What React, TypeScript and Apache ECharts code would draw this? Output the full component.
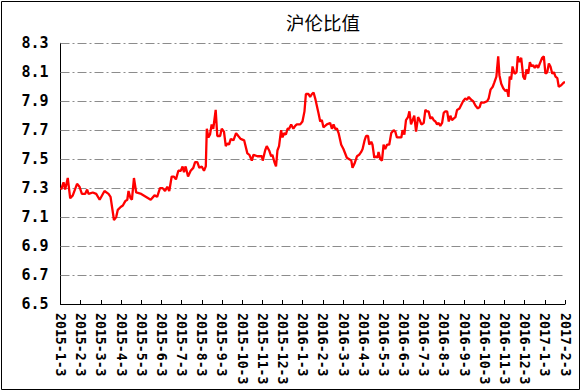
import React, { useEffect, useRef } from "react";
import * as echarts from "echarts";

const titleText = "沪伦比值";

const monthLabels = [
  "2015-1-3", "2015-2-3", "2015-3-3", "2015-4-3", "2015-5-3", "2015-6-3",
  "2015-7-3", "2015-8-3", "2015-9-3", "2015-10-3", "2015-11-3", "2015-12-3",
  "2016-1-3", "2016-2-3", "2016-3-3", "2016-4-3", "2016-5-3", "2016-6-3",
  "2016-7-3", "2016-8-3", "2016-9-3", "2016-10-3", "2016-11-3", "2016-12-3",
  "2017-1-3", "2017-2-3",
];

const yTickValues = [6.5, 6.7, 6.9, 7.1, 7.3, 7.5, 7.7, 7.9, 8.1, 8.3];
const gridLineValues = [6.7, 6.9, 7.1, 7.3, 7.5, 7.7, 7.9, 8.1, 8.3];

// position in months after 2015-1-3
const monthPos = [
  0.03, 0.15, 0.23, 0.36, 0.48, 0.61, 0.82, 0.94, 1.06, 1.22, 1.32, 1.39, 1.6, 1.77, 1.94,
  2.18, 2.38, 2.48, 2.65, 2.76, 2.84, 2.98, 3.09, 3.21, 3.31, 3.37, 3.47, 3.54, 3.64, 3.75,
  4.0, 4.47, 4.66, 4.79, 4.93, 5.06, 5.18, 5.29, 5.39, 5.51, 5.62, 5.72, 5.84, 5.96,
  6.05, 6.12, 6.2, 6.32, 6.45, 6.58, 6.67, 6.78, 6.88, 7.0, 7.11, 7.2, 7.25, 7.33, 7.41,
  7.49, 7.57, 7.69, 7.77, 7.91, 7.99, 8.1, 8.19, 8.27, 8.35, 8.44, 8.57, 8.7, 8.81, 8.93,
  9.1, 9.26, 9.36, 9.48, 9.56, 9.76, 9.98, 10.02, 10.14, 10.22, 10.34, 10.44, 10.5, 10.6,
  10.68, 10.75, 10.83, 10.93, 11.0, 11.08, 11.17, 11.25, 11.33, 11.43, 11.54, 11.63, 11.71,
  11.88, 11.99, 12.09, 12.16, 12.29, 12.37, 12.46, 12.54, 12.62, 12.78, 12.87, 12.95,
  13.03, 13.2, 13.36, 13.45, 13.53, 13.61, 13.7, 13.78, 13.91, 14.02, 14.19, 14.31, 14.41,
  14.47, 14.57, 14.69, 14.8, 14.9, 14.97, 15.07, 15.14, 15.24, 15.3, 15.4, 15.46, 15.55,
  15.63, 15.71, 15.76, 15.85, 15.93, 16.01, 16.09, 16.18, 16.29, 16.39, 16.51, 16.59,
  16.67, 16.75, 16.89, 16.95, 17.04, 17.12, 17.22, 17.29, 17.37, 17.45, 17.53, 17.62,
  17.72, 17.8, 17.88, 18.0, 18.08, 18.16, 18.24, 18.33, 18.41, 18.49, 18.58, 18.66, 18.74,
  18.82, 18.91, 18.99, 19.07, 19.16, 19.24, 19.32, 19.4, 19.48, 19.57, 19.65, 19.77,
  19.95, 20.06, 20.15, 20.23, 20.35, 20.45, 20.56, 20.68, 20.77, 20.84, 20.97, 21.14,
  21.22, 21.31, 21.42, 21.5, 21.6, 21.69, 21.75, 21.84, 21.94, 22.05, 22.13, 22.2, 22.26,
  22.33, 22.4, 22.5, 22.6, 22.66, 22.74, 22.83, 22.93, 23.01, 23.09, 23.18, 23.26, 23.34,
  23.42, 23.5, 23.59, 23.67, 23.75, 23.87, 23.95, 24.03, 24.12, 24.2, 24.28, 24.37, 24.45,
  24.53, 24.62, 24.69, 24.81, 24.94, 25.0,
];

const ratioValues = [
  7.29, 7.34, 7.29, 7.37, 7.23, 7.25, 7.33, 7.31, 7.26, 7.26, 7.29, 7.26, 7.27, 7.26, 7.22,
  7.28, 7.26, 7.24, 7.08, 7.1, 7.15, 7.17, 7.18, 7.21, 7.22, 7.28, 7.23, 7.22, 7.37, 7.27,
  7.26, 7.22, 7.25, 7.24, 7.3, 7.3, 7.28, 7.31, 7.28, 7.38, 7.38, 7.36, 7.42, 7.42,
  7.45, 7.41, 7.45, 7.38, 7.42, 7.44, 7.48, 7.48, 7.44, 7.45, 7.42, 7.45, 7.71, 7.65, 7.67,
  7.74, 7.71, 7.84, 7.66, 7.66, 7.71, 7.69, 7.59, 7.61, 7.6, 7.64, 7.63, 7.68, 7.66, 7.64,
  7.63, 7.54, 7.53, 7.49, 7.53, 7.52, 7.52, 7.49, 7.56, 7.59, 7.56, 7.52, 7.53, 7.48,
  7.45, 7.56, 7.59, 7.7, 7.65, 7.68, 7.67, 7.71, 7.71, 7.74, 7.71, 7.73, 7.74,
  7.74, 7.76, 7.83, 7.95, 7.95, 7.93, 7.95, 7.96, 7.92, 7.82, 7.76, 7.77,
  7.72, 7.74, 7.75, 7.71, 7.74, 7.71, 7.71, 7.68, 7.6, 7.57, 7.51, 7.5, 7.49,
  7.44, 7.47, 7.52, 7.53, 7.55, 7.57, 7.63, 7.66, 7.66, 7.6, 7.62, 7.6, 7.51,
  7.52, 7.51, 7.55, 7.5, 7.49, 7.6, 7.57, 7.6, 7.6, 7.68, 7.7, 7.69,
  7.65, 7.65, 7.65, 7.7, 7.67, 7.77, 7.79, 7.83, 7.74, 7.77, 7.8, 7.69,
  7.79, 7.77, 7.74, 7.75, 7.84, 7.83, 7.83, 7.78, 7.79, 7.77, 7.76, 7.74, 7.75,
  7.73, 7.75, 7.82, 7.83, 7.83, 7.76, 7.8, 7.77, 7.78, 7.79, 7.84, 7.85,
  7.9, 7.92, 7.91, 7.93, 7.91, 7.9, 7.87, 7.85, 7.86, 7.89, 7.89, 7.9,
  7.92, 7.98, 8.0, 8.03, 8.07, 8.21, 8.08, 8.02, 7.99, 7.97, 7.98, 7.93, 8.07,
  8.05, 8.14, 8.09, 8.1, 8.21, 8.17, 8.2, 8.07, 8.05, 8.12, 8.09, 8.17, 8.14,
  8.15, 8.13, 8.15, 8.13, 8.16, 8.2, 8.21, 8.09, 8.1, 8.16, 8.14, 8.09, 8.1,
  8.07, 8.06, 8.0, 8.01, 8.03, 8.03,
];

export default function App() {
  const ref = useRef<HTMLDivElement>(null);

  useEffect(() => {
    if (!ref.current) return;
    const chart = echarts.init(ref.current, null, { renderer: "svg" });
    const lineData = monthPos.map((m, i) => [m, ratioValues[i]]);
    chart.setOption({
      animation: false,
      backgroundColor: "#ffffff",
      title: {
        text: titleText,
        left: 281,
        top: 8,
        textStyle: {
          fontFamily: "Noto Sans CJK SC",
          fontSize: 18.5,
          fontWeight: "normal",
          color: "#000000",
        },
      },
      graphic: [
        {
          type: "rect",
          shape: { x: 1.5, y: 1.5, width: 578, height: 388 },
          style: { fill: "none", stroke: "#000000", lineWidth: 1 },
          silent: true,
        },
      ],
      grid: { left: 60.5, right: 16, top: 43.3, bottom: 88, containLabel: false },
      xAxis: {
        type: "value",
        min: 0,
        max: monthLabels.length - 1,
        interval: 1,
        axisLine: { show: true, lineStyle: { color: "#000000", width: 1 } },
        axisTick: { show: true, inside: true, length: 4, lineStyle: { color: "#000000" } },
        splitLine: { show: false },
        axisLabel: {
          rotate: -90,
          margin: 9,
          fontFamily: "DejaVu Sans Mono",
          fontSize: 13.2,
          fontWeight: "bold",
          color: "#000000",
          formatter: (v: number) => monthLabels[Math.round(v)] ?? "",
        },
      },
      yAxis: {
        type: "value",
        min: yTickValues[0],
        max: yTickValues[yTickValues.length - 1],
        axisLine: { show: true, lineStyle: { color: "#000000", width: 1 } },
        axisTick: {
          show: true,
          inside: true,
          length: 3,
          customValues: yTickValues,
          lineStyle: { color: "#000000" },
        },
        splitLine: { show: false },
        axisLabel: {
          customValues: yTickValues,
          margin: 12,
          fontFamily: "DejaVu Sans Mono",
          fontSize: 15,
          fontWeight: "bold",
          color: "#000000",
          formatter: (v: number) => v.toFixed(1),
        },
      },
      series: [
        {
          type: "line",
          data: lineData,
          showSymbol: false,
          symbol: "none",
          z: 3,
          lineStyle: { color: "#ff0000", width: 2.3 },
          markLine: {
            silent: true,
            symbol: "none",
            z: 1,
            label: { show: false },
            lineStyle: { color: "#8c8c8c", width: 1, type: [9, 3, 2, 3] },
            data: gridLineValues.map((v) => ({ yAxis: v })),
          },
        },
      ],
    });
    return () => chart.dispose();
  }, []);

  return (
    <div
      ref={ref}
      style={{ position: "absolute", left: 0, top: 0, width: 581, height: 392 }}
    />
  );
}
